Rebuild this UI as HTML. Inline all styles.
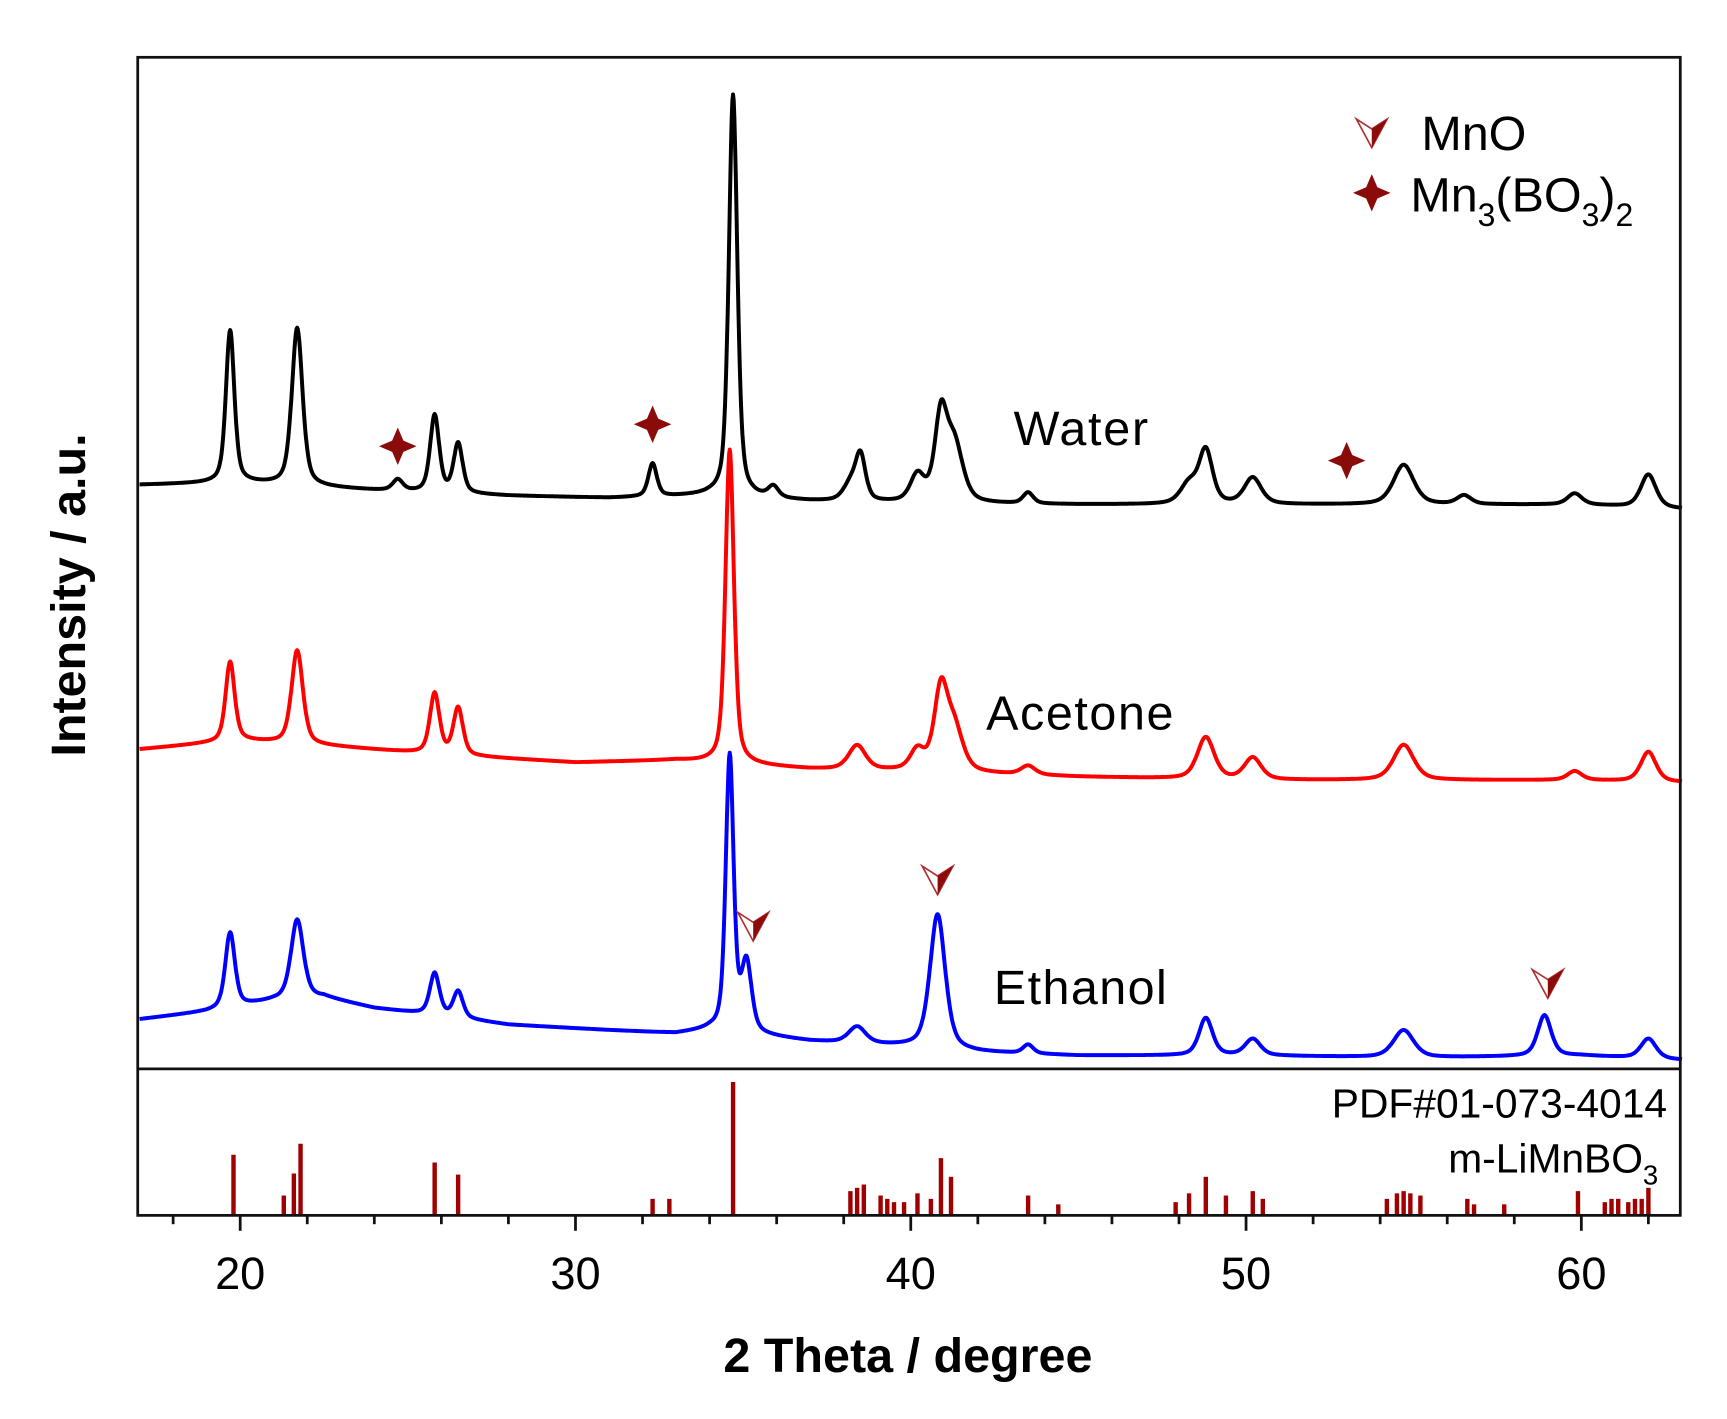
<!DOCTYPE html>
<html><head><meta charset="utf-8"><style>
html,body{margin:0;padding:0;background:#fff;}
svg{display:block;}
text{font-family:"Liberation Sans",Arial,sans-serif;}
</style></head><body>
<svg id="chart" width="1727" height="1419" viewBox="0 0 1567.4 1287.8" preserveAspectRatio="none" xmlns="http://www.w3.org/2000/svg">
<rect x="0" y="0" width="1567.4" height="1287.8" fill="#fff"/>
<g id="curves"></g>
<g id="sticks"></g>
<g id="markers"></g>
<rect x="125" y="52" width="1400" height="1051" fill="none" stroke="#111" stroke-width="2.5"/>
<line x1="125" y1="970" x2="1525" y2="970" stroke="#111" stroke-width="2.5"/>
<g id="ticks"></g>
<text x="920" y="404" font-size="44" textLength="122">Water</text>
<text x="895" y="662" font-size="44" textLength="170">Acetone</text>
<text x="902" y="911" font-size="44" textLength="157">Ethanol</text>
<text x="1513" y="1014" font-size="37" text-anchor="end">PDF#01-073-4014</text>
<text x="1505" y="1064" font-size="37" text-anchor="end">m-LiMnBO<tspan font-size="25" dy="11">3</tspan></text>
<text x="1290" y="136" font-size="44">MnO</text>
<text x="1280" y="192" font-size="44">Mn<tspan font-size="29" dy="13">3</tspan><tspan dy="-13">(BO</tspan><tspan font-size="29" dy="13">3</tspan><tspan dy="-13">)</tspan><tspan font-size="29" dy="13">2</tspan></text>
<text x="824" y="1245" font-size="44" font-weight="bold" text-anchor="middle">2 Theta / degree</text>
<text x="0" y="0" font-size="44" font-weight="bold" text-anchor="middle" transform="translate(77,540) rotate(-90)">Intensity / a.u.</text>
</svg>
<script>
const xTicks=[20,30,40,50,60];
const waterBaseX=[17,20,24,28,31,34,37,40,45,50,55,60,63];
const waterBaseY=[530,532,525,520,518,520,515,513,512,512,512,512,508];
const waterPeakPos=[19.7,21.7,24.7,25.8,26.5,32.3,34.7,35.9,38.2,38.5,40.2,40.9,41.3,43.5,48.3,48.8,50.2,54.7,56.5,59.8,62.0];
const waterPeakH=[138,143,10,70,45,30,365,10,15,40,24,75,52,10,18,48,24,36,8,10,30];
const waterPeakW=[0.15,0.19,0.18,0.16,0.16,0.15,0.15,0.18,0.25,0.18,0.25,0.22,0.3,0.18,0.3,0.24,0.3,0.36,0.25,0.25,0.27];
const acetBaseX=[17,20,23,26,30,33,37,40,45,50,55,60,63];
const acetBaseY=[290,298,292,285,278,280,272,270,265,262,262,262,260];
const acetPeakPos=[19.7,21.7,25.8,26.5,34.6,38.4,40.2,40.9,41.3,43.5,48.8,50.2,54.7,59.8,62.0];
const acetPeakH=[72,85,55,43,285,22,18,72,38,8,38,20,32,8,27];
const acetPeakW=[0.16,0.2,0.17,0.17,0.15,0.3,0.25,0.24,0.3,0.25,0.3,0.3,0.36,0.25,0.27];
const ethBaseX=[17,19,21,22.5,24,26,28,31,33,34,37,40,42,45,50,55,60,63];
const ethBaseY=[45,52,62,65,55,48,40,35,32,35,25,20,15,12,12,10,12,8];
const ethPeakPos=[19.7,21.7,25.8,26.5,34.6,35.1,38.4,40.8,43.5,48.8,50.2,54.7,58.9,62.0];
const ethPeakH=[68,72,38,24,250,62,15,122,8,34,15,25,37,18];
const ethPeakW=[0.17,0.22,0.17,0.17,0.14,0.18,0.3,0.27,0.18,0.24,0.27,0.36,0.24,0.27];
const stickPos=[19.8,21.3,21.6,21.8,25.8,26.5,32.3,32.8,34.7,38.2,38.4,38.6,39.1,39.3,39.5,39.8,40.2,40.6,40.9,41.2,43.5,44.4,47.9,48.3,48.8,49.4,50.2,50.5,54.2,54.5,54.7,54.9,55.2,56.6,56.8,57.7,59.9,60.7,60.9,61.1,61.4,61.6,61.8,62.0];
const stickH=[55,18,38,65,48,37,15,15,121,22,25,28,18,15,12,12,20,15,52,35,18,10,12,20,35,18,22,15,15,20,22,20,18,15,10,10,22,12,15,15,12,15,15,25];
const starPos=[24.7,32.3,53.0];
const starVal=[565,585,552];
const mnoPos=[35.3,40.8,59.0];
const mnoVal=[130,172,78];
const NS='http://www.w3.org/2000/svg';
function xs(v){return 218+(v-20)*30.43;}
function ys(v){return 970-v;}
function yStick(v){return 1103-v;}
function interp(xa,ya,x){for(let i=0;i<xa.length-1;i++){if(x<=xa[i+1]){const t=(x-xa[i])/(xa[i+1]-xa[i]);return ya[i]+t*(ya[i+1]-ya[i]);}}return ya[ya.length-1];}
function pattern(bx,by,pp,ph,pw,x){let v=interp(bx,by,x);for(let i=0;i<pp.length;i++){const d=(x-pp[i])/pw[i];v+=ph[i]*(0.5/(1+d*d)+0.5*Math.exp(-0.693*d*d));}return v;}
function el(tag,attrs,parent){const e=document.createElementNS(NS,tag);for(const k in attrs)e.setAttribute(k,attrs[k]);parent.appendChild(e);return e;}
const curves=document.getElementById('curves');
function drawCurve(bx,by,pp,ph,pw,color,name){let d='';for(let x=17;x<=63.001;x+=0.02){d+=(d?'L':'M')+xs(x).toFixed(1)+','+ys(pattern(bx,by,pp,ph,pw,x)).toFixed(1);}
const p=el('path',{d:d,fill:'none',stroke:color,'stroke-width':3.6,'stroke-linejoin':'round'},curves);

}
drawCurve(waterBaseX,waterBaseY,waterPeakPos,waterPeakH,waterPeakW,'#000','water-curve');
drawCurve(acetBaseX,acetBaseY,acetPeakPos,acetPeakH,acetPeakW,'#ff0000','acetone-curve');
drawCurve(ethBaseX,ethBaseY,ethPeakPos,ethPeakH,ethPeakW,'#0000ff','ethanol-curve');
const sticks=document.getElementById('sticks');
for(let i=0;i<stickPos.length;i++){const l=el('line',{x1:xs(stickPos[i]),x2:xs(stickPos[i]),y1:1103,y2:yStick(stickH[i]),stroke:'#a00000','stroke-width':4},sticks);

}
const markers=document.getElementById('markers');
function star(cx,cy,r,name){const k=r*0.3;const d=`M${cx},${cy-r}L${cx+k},${cy-k}L${cx+r},${cy}L${cx+k},${cy+k}L${cx},${cy+r}L${cx-k},${cy+k}L${cx-r},${cy}L${cx-k},${cy-k}Z`;const p=el('path',{d:d,fill:'#8b0a0a'},markers);

}
function tri(cx,cy,name){const g=el('g',{},markers);


el('polygon',{points:`${cx-14},${cy-12} ${cx},${cy-3} ${cx+14},${cy-12} ${cx},${cy+14}`,fill:'#fff',stroke:'#b03030','stroke-width':1.5},g);
el('polygon',{points:`${cx},${cy-3} ${cx+14},${cy-12} ${cx},${cy+14}`,fill:'#8b0a0a'},g);}
for(let i=0;i<starPos.length;i++)star(xs(starPos[i]),ys(starVal[i]),17,'mn3bo32-marker');
for(let i=0;i<mnoPos.length;i++)tri(xs(mnoPos[i]),ys(mnoVal[i]),'mno-marker');
star(1245,175,17,'legend-mn3bo32-symbol');
tri(1245,120,'legend-mno-symbol');
const ticks=document.getElementById('ticks');
for(let v=18;v<=62;v++){if(v%2)continue;const major=v%10===0;const t=el('line',{x1:xs(v),x2:xs(v),y1:1103,y2:1103+(major?14:8),stroke:'#111','stroke-width':2.5},ticks);

}
for(const v of xTicks){const t=el('text',{x:xs(v),y:1170,'font-size':41,'text-anchor':'middle'},ticks);t.textContent=v;

}
</script>
</body></html>
